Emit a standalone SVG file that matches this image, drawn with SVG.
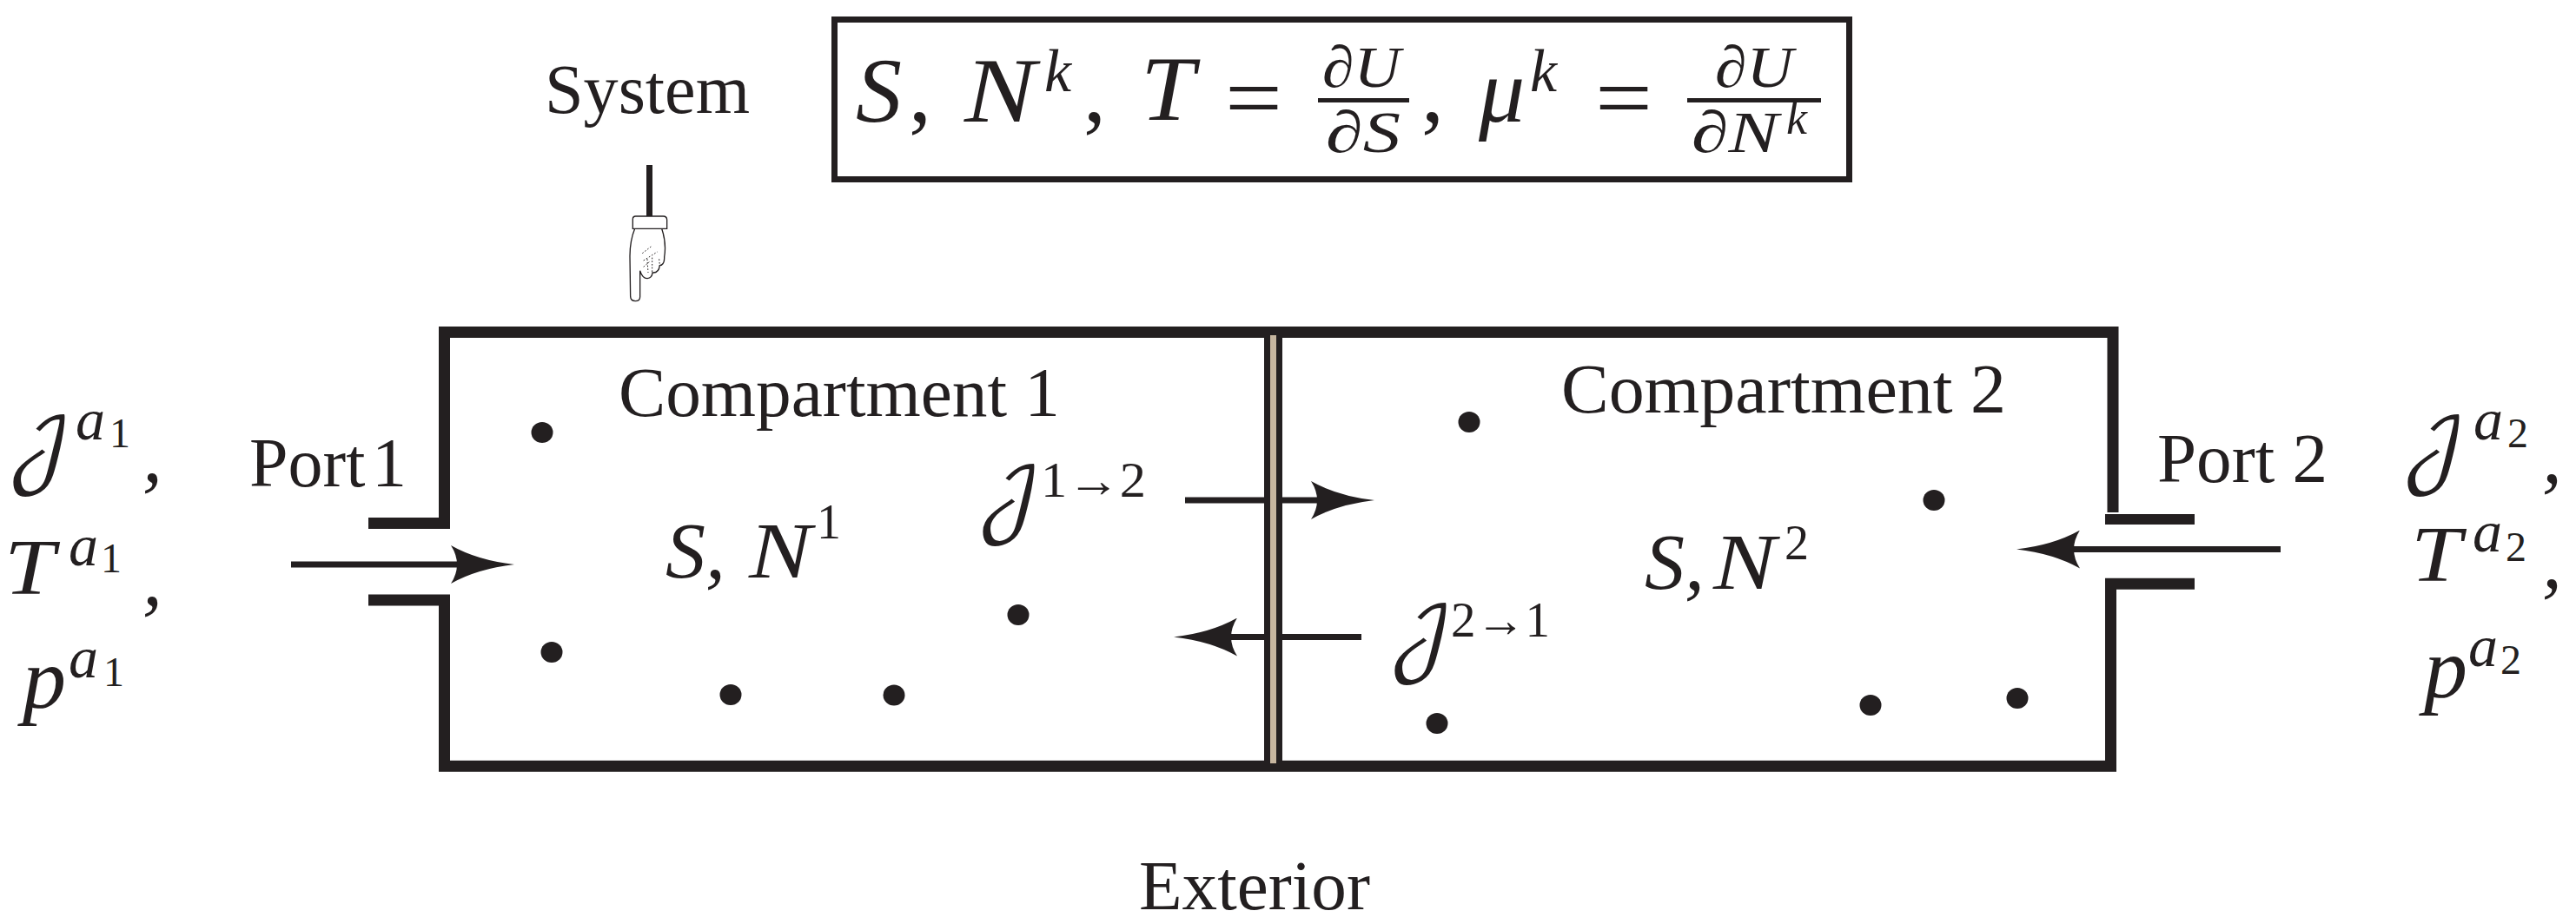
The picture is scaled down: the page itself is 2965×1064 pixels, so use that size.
<svg xmlns="http://www.w3.org/2000/svg" width="2965" height="1064" viewBox="0 0 2965 1064">
<style>
text{font-family:"Liberation Serif","Times New Roman",serif;fill:#231f20}
.r{font-size:80px}
.m{font-style:italic;font-size:92px}
.e{font-style:italic;font-size:106px}
.u{font-size:104px}
.f{font-style:italic;font-size:68px}
.s{font-style:italic;font-size:68px}
.d{font-size:48px}
.k{font-style:italic;font-size:70px}
.n{font-size:56px}
.j{font-family:"DejaVu Math TeX Gyre","Liberation Serif",serif;font-size:92px}
.w{fill:none;stroke:#231f20;stroke-width:13}
.a{stroke:#231f20;stroke-width:7;fill:none}
.dot{fill:#231f20}
</style>
<defs>
<marker id="head" markerUnits="userSpaceOnUse" viewBox="0 0 73 44" refX="14" refY="22" markerWidth="73" markerHeight="44" orient="auto">
<path d="M0 0Q30 17 73 22Q30 27 0 44Q14 22 0 0Z" fill="#231f20"/>
</marker>
</defs>
<rect width="2965" height="1064" fill="#fff"/>

<g id="connectors">
<line class="a" x1="335" y1="650" x2="533" y2="650" marker-end="url(#head)"/>
<line class="a" x1="1364" y1="576" x2="1523" y2="576" marker-end="url(#head)"/>
<line class="a" x1="1567" y1="733.5" x2="1410" y2="733.5" marker-end="url(#head)"/>
<line class="a" x1="2625" y1="632.5" x2="2380" y2="632.5" marker-end="url(#head)"/>
<line x1="747.5" y1="190" x2="747.5" y2="249" stroke="#231f20" stroke-width="7"/>
</g>

<g id="system-box">
<polyline class="w" points="424,602.5 511.5,602.5 511.5,382.5 2432,382.5 2432,590"/>
<polyline class="w" points="424,691 511.5,691 511.5,882.3 2429.5,882.3 2429.5,672.3 2526,672.3"/>
<line x1="2423" y1="598" x2="2526" y2="598" stroke="#231f20" stroke-width="12"/>
</g>

<g id="divider">
<rect x="1455" y="386" width="21" height="493" fill="#231f20"/>
<rect x="1462" y="386" width="7" height="493" fill="#c6b69f"/>
</g>

<g id="hand" transform="translate(660 170) scale(.3333)" fill="#fff" stroke="#231f20" stroke-width="4">
<path d="M212 280C200 310 195 345 195 375L197 515Q198 530 214 530Q230 530 230 515L230 425Q238 452 255 452Q272 450 273 432Q295 434 298 407Q315 405 314 378Q322 330 305 280Z"/>
<path d="M215 237H310Q323 237 323 250V280H205V247Q205 237 215 237Z"/>
<path d="M238 365L268 342M242 390L290 360M255 385L258 432M272 380L272 430M296 385L298 405M242 412L262 395" stroke-width="3" stroke-dasharray="5 6" fill="none"/>
</g>

<g id="system-label"><text class="r" x="627" y="130" textLength="236" lengthAdjust="spacingAndGlyphs">System</text></g>

<g id="equation-box">
<rect x="960.5" y="22.5" width="1168" height="184" fill="none" stroke="#231f20" stroke-width="7"/>
<text class="e" x="985" y="140">S</text>
<text class="u" x="1046" y="140">,</text>
<text class="e" x="1110" y="140" textLength="82" lengthAdjust="spacingAndGlyphs">N</text>
<text class="k" x="1202" y="105">k</text>
<text class="u" x="1247" y="140">,</text>
<text class="e" x="1313" y="138" textLength="62" lengthAdjust="spacingAndGlyphs">T</text>
<text class="u" x="1410" y="148" textLength="66" lengthAdjust="spacingAndGlyphs">=</text>
<rect x="1517" y="113" width="105" height="5" fill="#231f20"/>
<text class="f" x="1522" y="100" textLength="90" lengthAdjust="spacingAndGlyphs">∂U</text>
<text class="f" x="1526" y="175" textLength="86" lengthAdjust="spacingAndGlyphs">∂S</text>
<text class="u" x="1636" y="140">,</text>
<text class="e" x="1702" y="140">μ</text>
<text class="k" x="1761" y="105">k</text>
<text class="u" x="1836" y="148" textLength="66" lengthAdjust="spacingAndGlyphs">=</text>
<rect x="1942" y="113" width="154" height="5" fill="#231f20"/>
<text class="f" x="1974" y="100" textLength="90" lengthAdjust="spacingAndGlyphs">∂U</text>
<text class="f" x="1947" y="175" textLength="100" lengthAdjust="spacingAndGlyphs">∂N</text>
<text class="s" x="2056" y="154" style="font-size:54px">k</text>
</g>

<g id="port-1-label"><text class="r" x="287" y="560">Port<tspan x="428">1</tspan></text></g>
<g id="port-2-label"><text class="r" x="2483" y="555" textLength="196" lengthAdjust="spacingAndGlyphs">Port 2</text></g>

<g id="inputs-1">
<text class="j" x="8" y="548">𝒥</text><text class="s" x="87" y="506">a</text><text class="d" x="126" y="515">1</text><text class="m" x="164" y="554">,</text>
<text class="m" x="5" y="684" textLength="58" lengthAdjust="spacingAndGlyphs">T</text><text class="s" x="79" y="651">a</text><text class="d" x="116" y="659">1</text><text class="m" x="164" y="696">,</text>
<text class="m" x="26" y="815" style="font-size:100px">p</text><text class="s" x="79" y="780">a</text><text class="d" x="119" y="790">1</text>
</g>

<g id="inputs-2">
<text class="j" x="2764" y="548">𝒥</text><text class="s" x="2847" y="506">a</text><text class="d" x="2886" y="515">2</text><text class="m" x="2926" y="555">,</text>
<text class="m" x="2775" y="669" textLength="58" lengthAdjust="spacingAndGlyphs">T</text><text class="s" x="2846" y="635">a</text><text class="d" x="2884" y="646">2</text><text class="m" x="2926" y="676">,</text>
<text class="m" x="2790" y="803" style="font-size:100px">p</text><text class="s" x="2841" y="767">a</text><text class="d" x="2878" y="776">2</text>
</g>

<g id="compartment-1">
<text class="r" x="712" y="479" textLength="508" lengthAdjust="spacingAndGlyphs">Compartment 1</text>
<text class="m" x="766" y="665">S,</text><text class="m" x="862" y="665" textLength="72" lengthAdjust="spacingAndGlyphs">N</text><text class="n" x="940" y="620">1</text>
<text class="j" x="1124" y="605">𝒥</text><text class="n" x="1198" y="572" textLength="121" lengthAdjust="spacingAndGlyphs">1→2</text>
<g class="dot"><ellipse cx="624" cy="498" rx="12.5" ry="12"/><ellipse cx="635" cy="751" rx="12.5" ry="12"/><ellipse cx="841" cy="800" rx="12.5" ry="12"/><ellipse cx="1029" cy="800.5" rx="12.5" ry="12"/><ellipse cx="1172" cy="708" rx="12.5" ry="12"/></g>
</g>

<g id="compartment-2">
<text class="r" x="1797" y="475" textLength="512" lengthAdjust="spacingAndGlyphs">Compartment 2</text>
<text class="m" x="1893" y="678">S,</text><text class="m" x="1972" y="678" textLength="72" lengthAdjust="spacingAndGlyphs">N</text><text class="n" x="2054" y="644">2</text>
<text class="j" x="1598" y="765">𝒥</text><text class="n" x="1670" y="733" textLength="114" lengthAdjust="spacingAndGlyphs">2→1</text>
<g class="dot"><ellipse cx="1691" cy="486" rx="12.5" ry="12"/><ellipse cx="1654" cy="833" rx="12.5" ry="12"/><ellipse cx="2226" cy="576" rx="12.5" ry="12"/><ellipse cx="2153" cy="812" rx="12.5" ry="12"/><ellipse cx="2322" cy="804" rx="12.5" ry="12"/></g>
</g>

<g id="exterior-label"><text class="r" x="1311" y="1047" textLength="266" lengthAdjust="spacingAndGlyphs">Exterior</text></g>
</svg>
